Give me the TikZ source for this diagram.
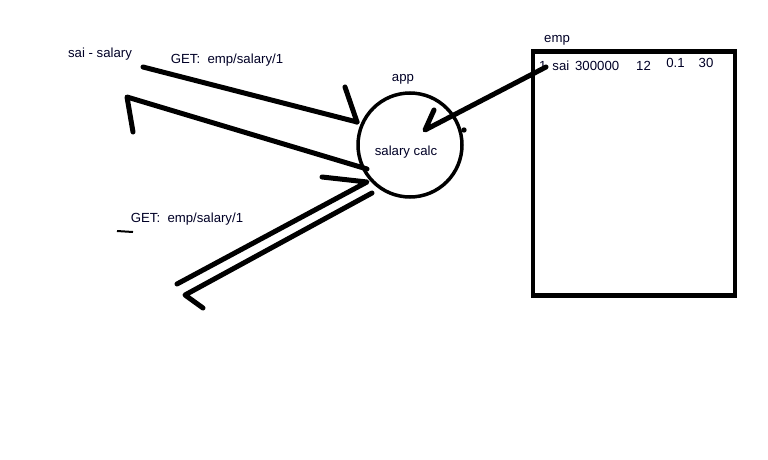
\documentclass[tikz,border=0pt]{standalone}
\usepackage{fontspec}
\setmainfont{Liberation Sans}
\begin{document}
\begin{tikzpicture}[x=1pt,y=-1pt,
  lbl/.style={inner sep=0pt,font=\fontsize{13.2}{15}\selectfont,text=black!85!blue},
  stroke/.style={line width=5pt,line cap=round,line join=round},
]
\useasboundingbox[fill=white] (0,0) rectangle (768,460);

% app circle
\node[draw,circle,line width=3.5pt,minimum size=104pt,inner sep=0pt] (app) at (410,145) {};
\node[lbl] (calc) at (406,152) {salary calc};
\node[lbl] (applbl) at (403,79) {app};
\fill (464,130) circle (2.7pt) coordinate (dot);

% emp table
\node[draw,rectangle,line width=4.5pt,minimum width=202pt,minimum height=244pt,inner sep=0pt] (emp) at (634,173.5) {};
\node[lbl] (emplbl) at (557,40) {emp};
\node[lbl,anchor=west] (row1) at (539,66) {1 \,sai\, 300000};
\node[lbl] (c12) at (643.5,66) {12};
\node[lbl] (c01) at (675.5,63) {0.1};
\node[lbl] (c30) at (706,63) {30};

% left labels
\node[lbl] (user) at (100,54) {sai - salary};
\node[lbl] (get1) at (227,60) {GET:\ \ emp/salary/1};
\node[lbl] (get2) at (187,219) {GET:\ \ emp/salary/1};

% coordinates of hand-drawn strokes
\coordinate (a1) at (143,67);
\coordinate (a2) at (357,122);
\coordinate (a3) at (345,87);
\coordinate (b1) at (367,169);
\coordinate (b2) at (127,97);
\coordinate (b3) at (133,132);
\coordinate (c1) at (322,177);
\coordinate (c2) at (367,182);
\coordinate (c3) at (177,284);
\coordinate (d1) at (372,193);
\coordinate (d2) at (185,295);
\coordinate (d3) at (203,308);
\coordinate (e1) at (546,67);
\coordinate (e2) at (425,130);
\coordinate (e3) at (434,110);
\coordinate (t1) at (117,231);
\coordinate (t2) at (133,232);

% request arrow
\draw[stroke] (a1) -- (a2);
\draw[stroke] (a3) -- (a2);
% response arrow
\draw[stroke] (b1) -- (b2) -- (b3);
% lower pair
\draw[stroke] (c1) -- (c2) -- (c3);
\draw[stroke] (d1) -- (d2) -- (d3);
% db to app
\draw[stroke] (e1) -- (e2) -- (e3);
% small mark
\draw[line width=2pt] (t1) -- (t2);
\end{tikzpicture}
\end{document}
